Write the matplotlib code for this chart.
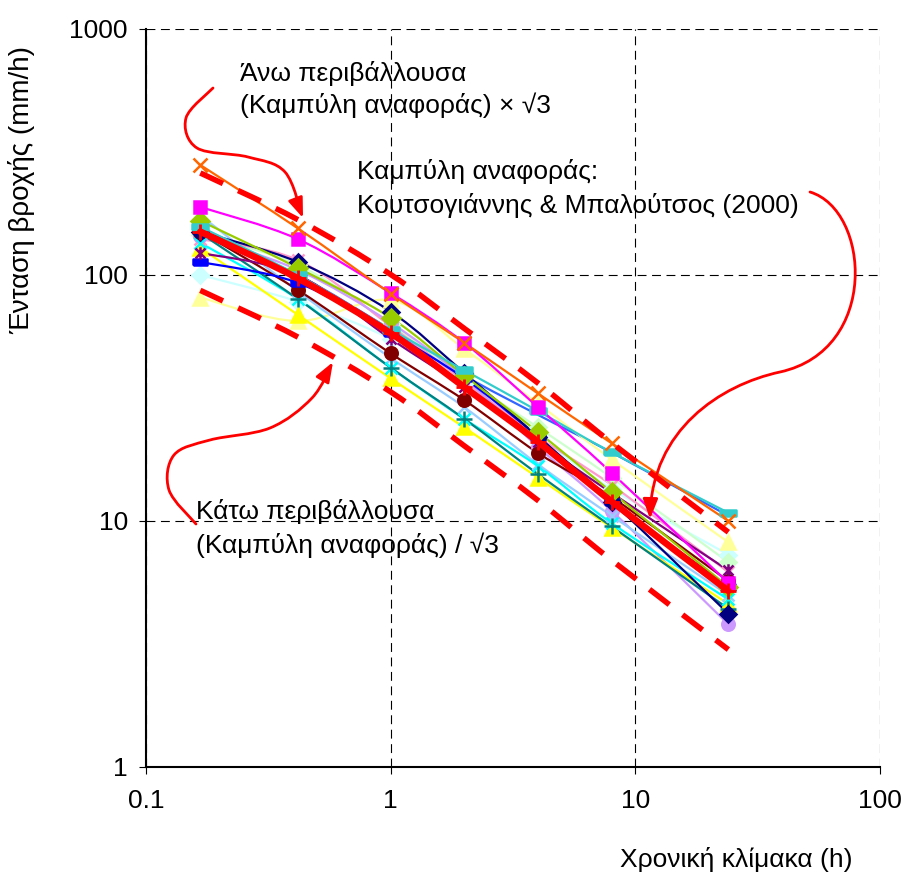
import numpy as np
import matplotlib
matplotlib.use('Agg')
import matplotlib.pyplot as plt
from matplotlib.path import Path
from matplotlib.patches import PathPatch, FancyArrowPatch

# durations (h) and rainfall intensities (mm/h) per station
durations = [0.1667, 0.4167, 1, 2, 4, 8, 24]

navy = [150, 113, 71, 40, 22, 12, 4.2]
magenta = [189, 140, 84.5, 53, 29, 15.7, 5.6]
yellow = [129, 69, 38, 24, 15, 9.4, 4.6]
cyan = [135, 80, 42, 26, 16.7, 9.8, 4.8]
purple = [123, 100, 55, 35, 21, 13, 6.3]
maroon = [150, 87, 48, 31, 18.9, 12.5, 5.7]
teal = [148, 80, 42, 26, 15.5, 9.5, 4.4]
blue = [113, 93, 58, 38, 22, 12, 5.4]
light_blue = [175, 86, 46, 29, 17, 10.5, 5.0]
lime = [166, 107, 67, 39, 23, 13.1, 5.4]
lavender = [144, 105, 64, 38, 20, 11, 3.8]
light_cyan = [100, 78, 55, 36, 22, 13.5, 7.3]
light_yellow = [81, 65, 79, 50, 30, 17.8, 8.2]
orange = [280, 155, 84, 53, 33, 20.7, 10]
aqua = [157, 100, 60, 41, 28, 19, 10.8]
royal = [150, 100, 60, 39, 27, 19, 10.5]
pink = [140, 115, 62, 37, 22, 14, 6.2]
light_green = [145, 110, 63, 38, 24, 15, 6.8]

# reference curve (Koutsoyiannis & Baloutsos, 2000)
reference = [150, 97, 58, 35, 21, 12, 5.2]
envelope_factor = np.sqrt(3)

W, H = 905, 877

star = Path([(-1, -1), (1, 1), (-1, 1), (1, -1), (0, -1.25), (0, 1.25)],
            [Path.MOVETO, Path.LINETO, Path.MOVETO, Path.LINETO, Path.MOVETO, Path.LINETO])
dash = [(-1, -0.45), (1, -0.45), (1, 0.45), (-1, 0.45), (-1, -0.45)]

stations = [
    (royal, '#3366FF', None, 8),
    (light_cyan, '#CCFFFF', 'D', 8),
    (light_green, '#CCFFCC', 'D', 8),
    (light_yellow, '#FFFF99', '^', 10),
    (pink, '#FF99CC', 'x', 9),
    (lavender, '#CC99FF', 'o', 9),
    (light_blue, '#99CCFF', 'x', 9),
    (yellow, '#FFFF00', '^', 10),
    (cyan, '#00FFFF', 'x', 9),
    (teal, '#008080', '+', 11),
    (maroon, '#800000', 'o', 9),
    (blue, '#0000FF', dash, 10),
    (purple, '#800080', star, 9),
    (navy, '#000080', 'D', 8),
    (lime, '#99CC00', 'D', 9),
    (aqua, '#33CCCC', dash, 11),
    (magenta, '#FF00FF', 's', 9),
    (orange, '#FF6600', 'x', 10),
]


def smooth(xs, ys):
    # Excel-style smoothed line: cubic Bezier through the points
    pts = np.column_stack([xs, ys]).astype(float)
    n = len(pts)
    verts = [pts[0]]
    codes = [Path.MOVETO]
    for i in range(n - 1):
        p0 = pts[max(i - 1, 0)]
        p1 = pts[i]
        p2 = pts[i + 1]
        p3 = pts[min(i + 2, n - 1)]
        verts += [p1 + (p2 - p0) / 6, p2 - (p3 - p1) / 6, p2]
        codes += [Path.CURVE4] * 3
    return np.array(verts), codes


def log_curve(x, y):
    v, c = smooth(np.log10(x), np.log10(y))
    return Path(10 ** v, c)


def to_fig(v):
    v = np.asarray(v, dtype=float)
    return np.column_stack([v[:, 0] / W, 1 - v[:, 1] / H])


def fig_curve(points):
    # smooth through pixel waypoints, then convert to figure fraction
    p = np.array(points, dtype=float)
    v, c = smooth(p[:, 0], p[:, 1])
    return Path(to_fig(v), c)


def fig_bezier(points):
    # explicit cubic segments: P0, C1, C2, P1, C1, C2, P2, ...
    codes = [Path.MOVETO] + [Path.CURVE4] * (len(points) - 1)
    return Path(to_fig(points), codes)


plt.rcParams['font.family'] = ['Liberation Sans', 'DejaVu Sans']

fig = plt.figure(figsize=(W / 100, H / 100), dpi=100)
ax = fig.add_axes([146 / W, 1 - 767 / H, (880 - 146) / W, (767 - 29) / H])
ax.set_xscale('log')
ax.set_yscale('log')
ax.set_xlim(0.1, 100)
ax.set_ylim(1, 1000)

for vals, col, mk, ms in stations:
    ax.add_patch(PathPatch(log_curve(durations, vals), fill=False, edgecolor=col,
                           lw=1.6, zorder=2))
    if mk is not None:
        ax.plot(durations, vals, ls='none', marker=mk, ms=ms, color=col,
                mec=col, mew=1.8, zorder=3)

upper = np.array(reference) * envelope_factor
lower = np.array(reference) / envelope_factor
ax.add_patch(PathPatch(log_curve(durations, reference), fill=False, edgecolor='red',
                       lw=4.8, zorder=4, capstyle='round'))
ax.plot(durations, reference, ls='none', marker='+', ms=12, mew=2, color='red', zorder=5)
for env in (upper, lower):
    ax.add_patch(PathPatch(log_curve(durations, env), fill=False, edgecolor='red',
                           lw=4, ls=(0, (4.5, 3)), zorder=4))

ax.set_xticks([0.1, 1, 10, 100])
ax.set_xticklabels(['0.1', '1', '10', '100'])
ax.set_yticks([1, 10, 100, 1000])
ax.set_yticklabels(['1', '10', '100', '1000'])
ax.minorticks_off()
ax.tick_params(axis='both', direction='out', length=5, width=0.8, labelsize=19)
ax.tick_params(axis='x', pad=11)
ax.tick_params(axis='y', pad=8)
ax.grid(True, which='major', color='black', lw=0.8, ls=(0, (8, 5)))
ax.set_axisbelow(True)
for side in ('top', 'right'):
    ax.spines[side].set_visible(False)
for side in ('left', 'bottom'):
    ax.spines[side].set_linewidth(1.5)

fig.text(22 / W, 1 - 190 / H, 'Ένταση βροχής (mm/h)', rotation=90,
         ha='center', va='center', fontsize=20)
fig.text(736 / W, 1 - 860 / H, 'Χρονική κλίμακα (h)', ha='center', va='center', fontsize=19)

notes = [
    (240, 73, 'Άνω περιβάλλουσα'),
    (240, 105, '(Καμπύλη αναφοράς) × √3'),
    (357, 172, 'Καμπύλη αναφοράς:'),
    (357, 205, 'Κουτσογιάννης & Μπαλούτσος (2000)'),
    (196, 512, 'Κάτω περιβάλλουσα'),
    (196, 545, '(Καμπύλη αναφοράς) / √3'),
]
for x, y, s in notes:
    fig.text(x / W, 1 - y / H, s, ha='left', va='center', fontsize=19)

arrow_paths = [
    fig_curve([(213, 88), (186, 118), (197, 148), (248, 157), (285, 172), (303, 218)]),
    fig_bezier([(810, 192), (870, 210), (880, 350), (780, 372),
                (720, 385), (652, 430), (650, 519)]),
    fig_curve([(196, 524), (169, 490), (174, 455), (210, 440), (270, 428), (312, 398), (333, 362)]),
]
for path in arrow_paths:
    fig.add_artist(FancyArrowPatch(path=path, arrowstyle='-|>,head_length=0.8,head_width=0.3',
                                   mutation_scale=15, lw=2, color='red',
                                   transform=fig.transFigure))

fig.savefig('out.png', dpi=100)
